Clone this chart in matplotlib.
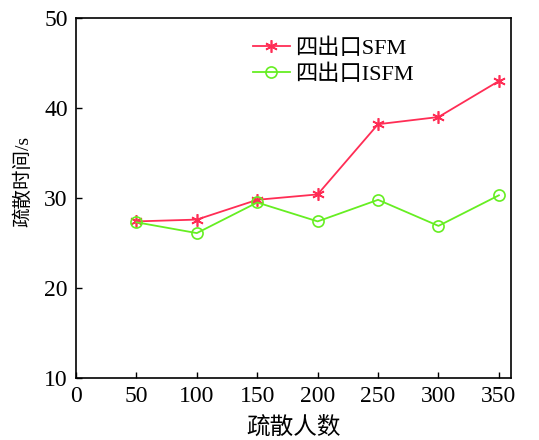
import matplotlib
matplotlib.use('Agg')
import matplotlib.pyplot as plt

plt.rcParams['font.family'] = ['Liberation Serif', 'Noto Sans CJK SC']

# data
people = [50, 100, 150, 200, 250, 300, 350]
sfm_time = [27.4, 27.6, 29.8, 30.4, 38.2, 39.0, 43.0]
isfm_time = [27.3, 26.1, 29.5, 27.4, 29.8, 26.9, 30.3]

fig = plt.figure(figsize=(5.39, 4.40), dpi=100)
ax = fig.add_axes([0.141, 0.141, 0.807, 0.818])

ax.plot(people, sfm_time, color='#ff2d55', marker=(6, 2, 0), markersize=9,
        markeredgewidth=1.2, linewidth=1.3, label='四出口SFM')
ax.plot(people, isfm_time, color='#66ee22', marker='o', markersize=8,
        markerfacecolor='none', markeredgewidth=1.2, linewidth=1.3,
        label='四出口ISFM')

ax.set_xlim(0, 360)
ax.set_ylim(10, 50)
ax.set_xticks(range(0, 351, 50))
ax.set_yticks(range(10, 51, 10))
ax.tick_params(direction='in', labelsize=17, length=4, width=1, pad=6)
ax.set_xlabel('疏散人数', fontsize=17, labelpad=7)
ax.set_ylabel('疏散时间/s', fontsize=14)
ax.yaxis.set_label_coords(-0.10, 0.547)
for s in ax.spines.values():
    s.set_linewidth(1.2)

ax.legend(loc='upper left', bbox_to_anchor=(0.36, 1.0), frameon=False,
          fontsize=16, handlelength=1.7, handletextpad=0.2, labelspacing=0.25)

fig.savefig('out.png', dpi=100)
